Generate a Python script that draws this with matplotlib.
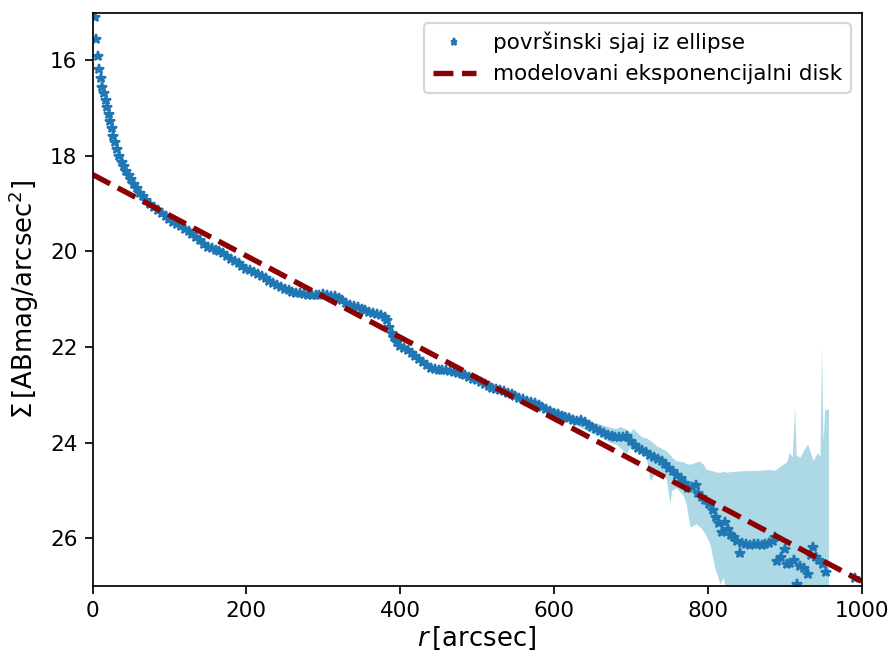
import matplotlib
matplotlib.use("Agg")
import matplotlib.pyplot as plt

# surface brightness profile
r = [3, 5, 7, 9, 11, 13, 15, 17, 19, 21, 23, 25, 27, 29,
     32, 35, 38, 41, 44, 47, 50, 54, 58, 62, 66, 70, 75, 80, 85, 90, 95,
     100, 105, 110, 115, 120, 125, 130, 135, 140, 145, 150, 155, 160, 165,
     170, 175, 180, 185, 190, 195, 200, 205, 210, 215, 220, 225, 230, 235,
     240, 245, 250, 255, 260, 265, 270, 275, 280, 285, 290, 295, 300, 305,
     310, 315, 320, 325, 330, 335, 340, 345, 350, 355, 360, 365, 370, 375,
     380, 383, 386, 389, 392, 396, 400, 405, 410, 415, 420, 425, 430, 435,
     440, 445, 450, 455, 460, 465, 470, 475, 480, 485, 490, 495, 500, 505,
     510, 515, 520, 525, 530, 535, 540, 545, 550, 555, 560, 565, 570, 575,
     580, 585, 590, 595, 600, 605, 610, 615, 620, 625, 630, 635, 640, 645,
     650, 655, 660, 665, 670, 675, 680, 685, 690, 695, 700, 705, 710, 715,
     720, 725, 730, 735, 740, 745, 750, 755, 760, 765, 770, 775, 780, 785,
     788, 792, 797, 802, 807, 811, 815, 818, 822, 826, 830, 834, 838, 842,
     845, 850, 855, 860, 865, 870, 875, 880, 885, 887, 890, 895, 900, 903,
     907, 912, 916, 920, 925, 930, 934, 937, 941, 945, 950, 954, 991]
mu = [15.09, 15.56, 15.91, 16.19, 16.38, 16.55, 16.68, 16.83, 16.97, 17.12,
      17.27, 17.42, 17.58, 17.70,
      17.86, 18.00, 18.12, 18.21, 18.31, 18.41, 18.49, 18.58, 18.68, 18.77,
      18.85, 18.92, 19.00, 19.07, 19.14, 19.20, 19.26,
      19.32, 19.38, 19.42, 19.46, 19.52, 19.57, 19.63, 19.69, 19.77, 19.84,
      19.90, 19.93, 19.96, 19.99,
      20.04, 20.10, 20.16, 20.21, 20.25, 20.31, 20.36, 20.39, 20.43, 20.47,
      20.52, 20.56, 20.61, 20.65,
      20.70, 20.74, 20.78, 20.81, 20.84, 20.86, 20.87, 20.89, 20.91, 20.92,
      20.92, 20.91, 20.90, 20.92,
      20.94, 20.93, 20.97, 21.01, 21.07, 21.12, 21.15, 21.17, 21.20, 21.23,
      21.26, 21.29, 21.31, 21.34,
      21.37, 21.44, 21.58, 21.70, 21.80, 21.90, 21.98, 22.03, 22.06, 22.12,
      22.18, 22.24, 22.32, 22.38,
      22.43, 22.46, 22.48, 22.48, 22.47, 22.50, 22.52, 22.54, 22.57, 22.59,
      22.62, 22.66, 22.69, 22.74,
      22.78, 22.82, 22.85, 22.87, 22.90, 22.93, 22.96, 22.99, 23.03, 23.06,
      23.09, 23.12, 23.15, 23.18,
      23.21, 23.25, 23.29, 23.33, 23.37, 23.41, 23.44, 23.46, 23.49, 23.52,
      23.55, 23.52, 23.57, 23.63,
      23.68, 23.71, 23.75, 23.80, 23.84, 23.86, 23.88, 23.89, 23.88, 23.86,
      23.97, 24.04, 24.11, 24.16,
      24.20, 24.26, 24.30, 24.34, 24.38, 24.45, 24.53, 24.60, 24.67, 24.74,
      24.85, 24.95, 24.92, 24.88,
      25.05, 25.13, 25.20, 25.28, 25.40, 25.55, 25.68, 25.86, 25.67, 25.80,
      25.93, 25.97, 26.05, 26.30,
      26.10, 26.12, 26.14, 26.13, 26.12, 26.14, 26.12, 26.11, 26.05, 25.98,
      26.47, 26.40, 26.23, 26.55,
      26.51, 26.45, 26.96, 26.58, 26.62, 26.75, 26.35, 26.19, 26.40, 26.45,
      26.55, 26.71, 26.83]

# error band (upper / lower edge in mag)
band_r = [550, 560, 580, 600, 620, 647, 660, 673, 681, 686, 694, 699, 703,
          710, 716, 720, 725, 733, 746, 751, 753, 759, 768, 772, 777, 785,
          789, 794, 798, 803, 809, 812, 816, 820, 824, 828, 842, 868, 880,
          887, 898, 903, 906, 910, 913, 915, 920, 925, 930, 937, 943, 946,
          948, 950, 952, 956, 957]
band_hi = [23.01, 23.05, 23.15, 23.28, 23.38, 23.57, 23.61, 23.68, 23.70,
           23.66, 23.72, 23.78, 23.70, 23.82, 23.89, 23.90, 23.95, 24.06,
           24.17, 24.25, 24.30, 24.38, 24.40, 24.44, 24.45, 24.41, 24.38,
           24.45, 24.55, 24.58, 24.60, 24.62, 24.62, 24.60, 24.62, 24.61,
           24.59, 24.58, 24.56, 24.58, 24.45, 24.40, 24.20, 24.30, 23.25,
           24.25, 24.31, 24.15, 24.03, 24.38, 24.20, 24.30, 22.00, 24.00,
           23.33, 23.29, 23.29]
band_lo = [23.06, 23.13, 23.26, 23.44, 23.56, 23.78, 23.85, 24.00, 24.03,
           24.10, 24.24, 24.10, 24.06, 24.18, 24.28, 24.31, 24.80, 24.59,
           24.75, 25.28, 25.00, 24.94, 25.10, 25.28, 25.77, 25.70, 25.75,
           25.84, 25.95, 26.12, 26.61, 26.75, 26.96, 26.82, 27.10, 28.0,
           28.0, 28.0, 28.0, 28.0, 28.0, 28.0, 28.0, 28.0, 28.0, 28.0,
           28.0, 28.0, 28.0, 28.0, 28.0, 28.0, 28.0, 28.0, 28.0, 28.0, 28.0]

# exponential disk model (straight line in magnitudes)
model_r = [0, 1000]
model_mu = [18.39, 26.90]

fig = plt.figure(figsize=(892 / 155, 655 / 155), dpi=155)
ax = fig.add_axes([92.5 / 892, 69 / 655, 769 / 892, 573.5 / 655])

ax.fill_between(band_r, band_hi, band_lo, color='lightblue', lw=0)
ax.plot(r, mu, '*', color='tab:blue', ms=4.5, label='površinski sjaj iz ellipse')
ax.plot(model_r, model_mu, '--', color='darkred', lw=2.5,
        label='modelovani eksponencijalni disk')

ax.set_xlim(0, 1000)
ax.set_ylim(27, 15)
ax.set_yticks([16, 18, 20, 22, 24, 26])
ax.set_xlabel(r'$r\,[\mathrm{arcsec}]$', fontsize=12, labelpad=2)
ax.set_ylabel(r'$\Sigma\,[\mathrm{ABmag/arcsec^2}]$', fontsize=12)
ax.legend(loc='upper right', numpoints=1, fontsize=10, markerscale=0.75)

fig.savefig('out.png', dpi=155)
